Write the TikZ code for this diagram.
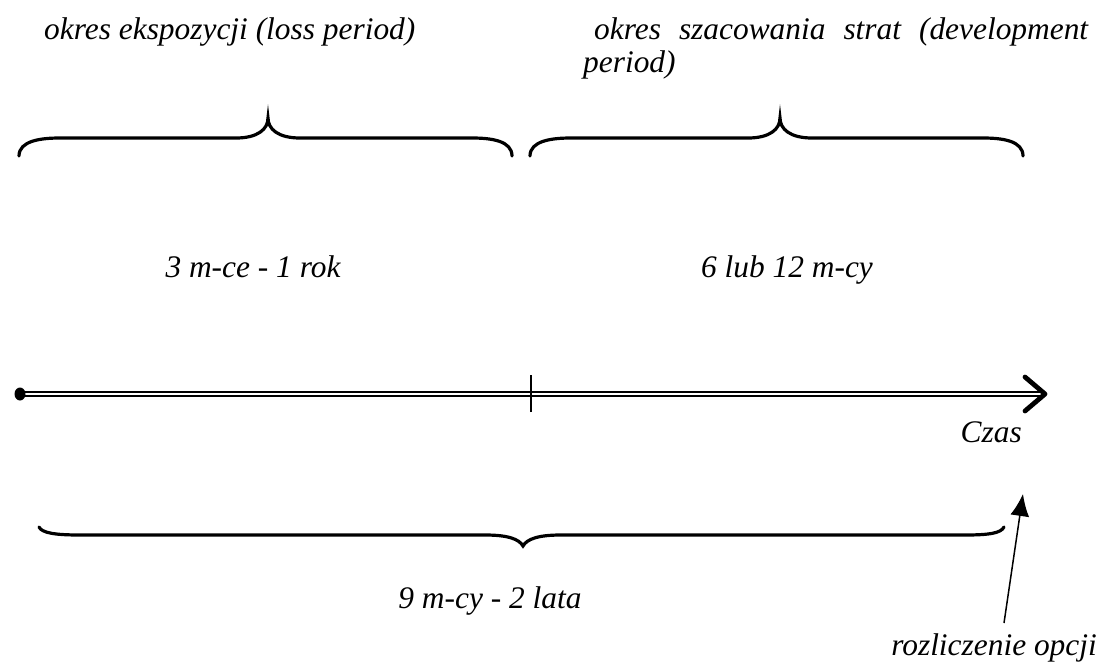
\documentclass[tikz,border=0pt]{standalone}
\usepackage{fontspec}
\setmainfont{Liberation Serif}
\usetikzlibrary{arrows.meta}
\begin{document}
\begin{tikzpicture}[x=1pt,y=-1pt,
  lbl/.style={inner sep=0pt,font=\fontsize{31.4}{34}\selectfont\itshape},
  bracepath/.style={line width=3.2pt,line cap=round},
  axis/.style={line width=1.4pt,double distance=2.6pt},
  chevron/.style={line width=4.8pt,line cap=round,line join=round},
  tickmark/.style={line width=1.6pt},
  pointer/.style={line width=1.5pt,-{Latex[length=22pt,width=19pt]}}]
\useasboundingbox (0,0) rectangle (1101,672);
% texts
\node[lbl,anchor=base west] (t1) at (44,39) {okres ekspozycji (loss period)};
\node[lbl,anchor=base west] (t2a) at (594,39) {\makebox[494pt][s]{okres szacowania strat (development}};
\node[lbl,anchor=base west] (t2b) at (583,72) {period)};
\node[lbl,anchor=base] (t3) at (253,277) {3 m-ce - 1 rok};
\node[lbl,anchor=base] (t4) at (787,277) {6 lub 12 m-cy};
\node[lbl,anchor=base east] (czas) at (1022,442) {Czas};
\node[lbl,anchor=base] (t5) at (490,608) {9 m-cy - 2 lata};
\node[lbl,anchor=base east] (roz) at (1097,655) {rozliczenie opcji};
% top left brace
\draw[bracepath] (19,156) .. controls (19,141) and (40,138) .. (60,138)
  -- (236,138) .. controls (258,138) and (268,129) .. (268,118)
  .. controls (268,129) and (278,138) .. (300,138)
  -- (472,138) .. controls (492,138) and (512,141) .. (512,156);
% top right brace
\draw[bracepath] (530,156) .. controls (530,141) and (551,138) .. (571,138)
  -- (748,138) .. controls (770,138) and (780,129) .. (780,118)
  .. controls (780,129) and (790,138) .. (812,138)
  -- (983,138) .. controls (1003,138) and (1023,141) .. (1023,156);
% bottom brace
\draw[bracepath] (39,527) .. controls (42,533) and (55,535) .. (80,535)
  -- (485,535) .. controls (508,535) and (519,539) .. (523,546)
  .. controls (527,539) and (538,535) .. (561,535)
  -- (965,535) .. controls (990,535) and (1001,533) .. (1004,527);
% timeline
\coordinate (start) at (20,394);
\coordinate (tip) at (1045,394);
\coordinate (mid) at (531,394);
\draw[axis] (start) -- (tip);
\fill (start) ellipse (5.5pt and 6.5pt);
\draw[tickmark] ([yshift=-18pt]mid) -- ([yshift=19pt]mid);
\draw[chevron] ([shift={(-20pt,-17pt)}]tip) -- (tip) -- ([shift={(-20pt,17pt)}]tip);
% pointer arrow
\coordinate (pfrom) at (1004,623);
\coordinate (pto) at (1023,494);
\draw[pointer] (pfrom) -- (pto);
\end{tikzpicture}
\end{document}
